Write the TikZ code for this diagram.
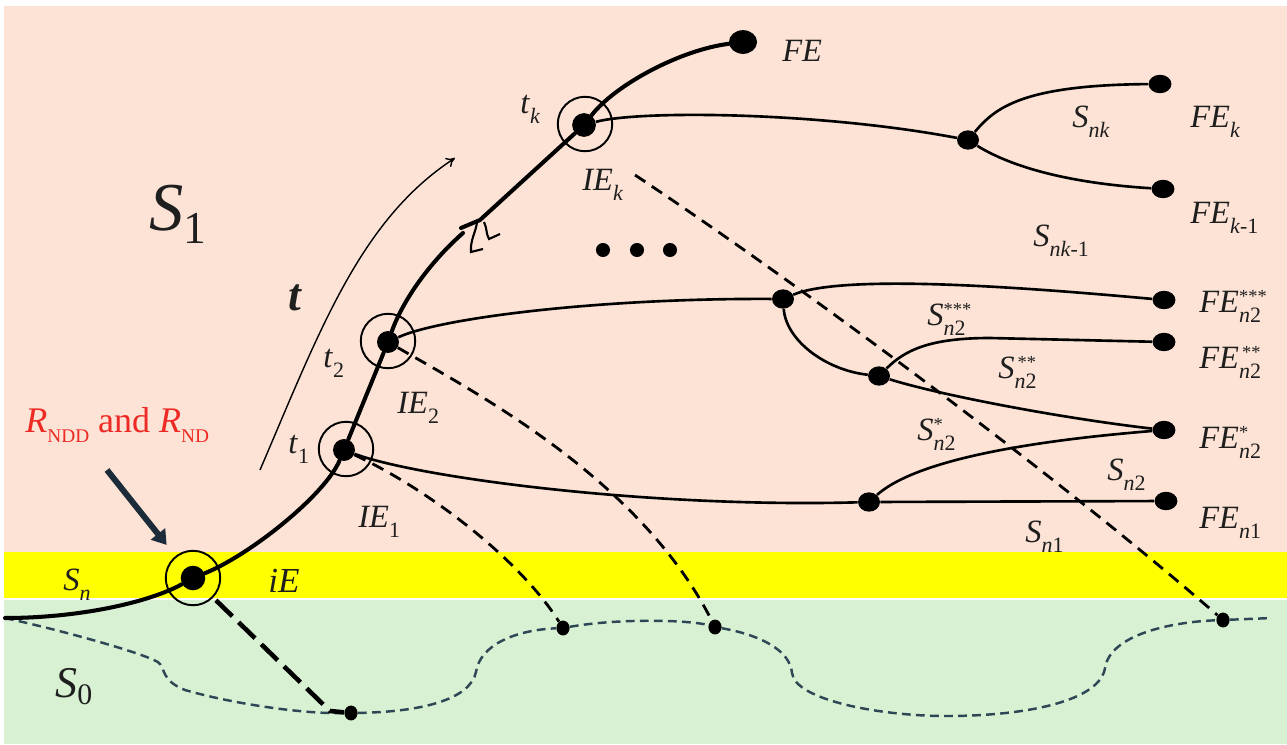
\documentclass[tikz,border=0pt]{standalone}
\usepackage{fontspec}
\setmainfont{Liberation Serif}
\usepackage{amsmath}
\usepackage{xcolor}
\usepackage{tikz}
\usetikzlibrary{arrows.meta,shapes.geometric}
\definecolor{bgpink}{HTML}{FCE3D6}
\definecolor{bgyellow}{HTML}{FFFF00}
\definecolor{bggreen}{HTML}{D8F1D2}
\definecolor{slateink}{HTML}{2E4756}
\definecolor{navyink}{HTML}{1C2B3A}
\definecolor{labelred}{HTML}{EE2A24}
\definecolor{inkgray}{HTML}{1E1E1E}
\newcommand{\subsz}{\fontsize{12.5}{13}\selectfont}
\newcommand{\supsz}{\fontsize{10.5}{11}\selectfont}
% name with a lowered index and an optional row of stars
\newcommand{\ev}[3]{\textit{#1}\rlap{\raisebox{0.3em}{\supsz#3}}\raisebox{-0.32em}{\subsz#2}}
\tikzset{
  trunk/.style={line width=2.3pt,line cap=round,line join=round},
  branch/.style={line width=1.5pt},
  tline/.style={line width=0.8pt,-{To[length=5pt,width=6pt]}},
  bigdot/.style={circle,fill=black,inner sep=0pt,minimum size=12.5pt},
  enddot/.style={ellipse,fill=black,inner sep=0pt,minimum width=13pt,minimum height=10.5pt},
  forkdot/.style={ellipse,fill=black,inner sep=0pt,minimum width=12.5pt,minimum height=11pt},
  basedot/.style={ellipse,fill=black,inner sep=0pt,minimum width=7.5pt,minimum height=8.5pt},
  ring/.style={circle,draw=black,line width=1.1pt,inner sep=0pt,minimum size=31pt},
  projthick/.style={line width=2.6pt,dash pattern=on 13pt off 5pt},
  proj/.style={line width=1.6pt,dash pattern=on 7pt off 4.5pt},
  s0line/.style={draw=slateink,line width=1.4pt,dash pattern=on 5pt off 3pt},
  lbl/.style={inner sep=0pt,anchor=base west,font=\fontsize{18.5}{20}\selectfont,text=inkgray},
}
\begin{document}
\begin{tikzpicture}[x=0.02cm,y=-0.02cm]
  \useasboundingbox (0,0) rectangle (1287,744);
  % regions
  \fill[white] (0,0) rectangle (1287,744);
  \fill[bgpink] (4,6) rectangle (1287,552);
  \fill[bgyellow] (4,552) rectangle (1287,598);
  \fill[bggreen] (4,600) rectangle (1287,744);

  % events on the trunk
  \node[bigdot,minimum size=14pt] (iE) at (193,578) {};
  \node[bigdot] (t1) at (344,450) {};
  \node[bigdot] (t2) at (388,342) {};
  \node[bigdot,minimum size=13.5pt] (tk) at (584,125) {};
  \node[enddot,minimum width=16pt,minimum height=13.5pt] (fe) at (743,42) {};
  \node[ring] (iEr) at (193,578) {};
  \node[ring] (t1r) at (346,449) {};
  \node[ring] (t2r) at (388,341) {};
  \node[ring] (tkr) at (585,124) {};

  % forks and final events
  \node[forkdot] (nk) at (968,140) {};
  \node[forkdot] (na) at (783,299) {};
  \node[forkdot] (nb) at (879,376) {};
  \node[forkdot] (nc) at (869,502) {};
  \node[enddot] (fek) at (1160,84) {};
  \node[enddot] (fekm) at (1163,189) {};
  \node[enddot] (fe3) at (1164,300) {};
  \node[enddot] (fe2) at (1164,342) {};
  \node[enddot] (fe1) at (1164,430) {};
  \node[enddot] (fen1) at (1166,501) {};

  % points on the S0 boundary
  \node[basedot] (sa) at (351,713) {};
  \node[basedot] (sb) at (563,628) {};
  \node[basedot] (sc) at (715,627) {};
  \node[basedot] (sd) at (1223,620) {};

  \coordinate (west) at (5,618);
  \coordinate (east) at (1272,618);
  \coordinate (brkT) at (461,228);
  \coordinate (brkB) at (463,233);
  \coordinate (kfoot) at (635,175);
  \coordinate (tTail) at (260,470);
  \coordinate (tHead) at (455,158);
  \coordinate (rTail) at (107,470);

  \draw[s0line] (west) .. controls (60,630) and (140,652) .. (158,662)
    .. controls (166,668) and (160,680) .. (185,690)
    .. controls (230,703) and (300,714) .. (sa)
    .. controls (420,712) and (470,700) .. (476,672)
    .. controls (480,645) and (515,630) .. (sb)
    .. controls (620,618) and (690,620) .. (sc)
    .. controls (760,635) and (790,650) .. (792,673)
    .. controls (795,700) and (880,716) .. (946,716)
    .. controls (1030,716) and (1100,700) .. (1105,668)
    .. controls (1110,635) and (1170,622) .. (sd) -- (east);

  \draw[projthick,shorten <=11pt] (iE) -- (330,711) -- (sa);
  \draw[proj] (t1) .. controls (430,490) and (520,560) .. (sb);
  \draw[proj] (t2) .. controls (480,395) and (640,480) .. (sc);
  \draw[proj] (kfoot) .. controls (800,285) and (1050,470) .. (sd);

  \draw[branch] (tk) .. controls (640,110) and (820,112) .. (nk);
  \draw[branch] (nk) .. controls (995,108) and (1022,85) .. (fek);
  \draw[branch] (nk) .. controls (1000,160) and (1050,182) .. (fekm);
  \draw[branch] (t2) .. controls (440,318) and (600,298) .. (na);
  \draw[branch] (na) .. controls (840,275) and (1000,285) .. (fe3);
  \draw[branch] (na) .. controls (786,340) and (825,370) .. (nb);
  \draw[branch] (nb) .. controls (905,350) and (930,338) .. (990,338) -- (fe2);
  \draw[branch] (nb) .. controls (940,395) and (1060,418) .. (fe1);
  \draw[branch] (t1) .. controls (420,478) and (650,508) .. (nc);
  \draw[branch] (nc) -- (fen1);
  \draw[branch] (nc) .. controls (905,470) and (980,445) .. (fe1);

  \draw[trunk] (west) .. controls (80,618) and (150,602) .. (iE);
  \draw[trunk] (iE) .. controls (250,555) and (325,495) .. (t1);
  \draw[trunk] (t1) -- (t2);
  \draw[trunk] (t2) .. controls (403,300) and (430,262) .. (brkB);
  \draw[trunk] (brkT) -- (480,220) -- (tk);
  \draw[trunk] (tk) .. controls (615,85) and (680,50) .. (fe);
  % break in the time axis
  \draw[line width=1.2pt] (477,222) .. controls (476,232) and (470,240) .. (471,252) -- (483,249);
  \draw[line width=1.2pt] (484,222) .. controls (487,228) and (486,234) .. (489,239) -- (500,234);

  \draw[tline] (tTail) .. controls (320,330) and (360,220) .. (tHead);
  \draw[navyink,line width=3.4pt,-{Triangle[length=8pt,width=10pt]},shorten >=8pt] (rTail) -- (iEr);

  \fill (603,250) circle[radius=4pt];
  \fill (637,250) circle[radius=4pt];
  \fill (670,250) circle[radius=4pt];

  % labels
  \node[lbl,font=\fontsize{39}{42}\selectfont] (lS1) at (149,230) {\textit{S}\raisebox{-0.19em}{\fontsize{26}{28}\selectfont 1}};
  \node[lbl,font=\fontsize{25}{27}\selectfont] (lS0) at (55,697) {\textit{S}\raisebox{-0.18em}{\fontsize{17}{18}\selectfont 0}};
  \node[lbl,font=\fontsize{26}{28}\selectfont\bfseries] (ltime) at (288,310) {\textit{t}};
  \node[lbl,font=\fontsize{20.5}{22}\selectfont,text=labelred] (lR) at (25,432)
    {\textit{R}\raisebox{-0.3em}{\fontsize{11}{12}\selectfont NDD} and \textit{R}\raisebox{-0.3em}{\fontsize{11}{12}\selectfont ND}};
  \node[lbl] (lSn) at (63,590) {\ev{S}{\textit{n}}{}};
  \node[lbl,font=\fontsize{20}{22}\selectfont] (liE) at (268,592) {\textit{iE}};
  \node[lbl] (lfe) at (782,61) {\textit{FE}};
  \node[lbl] (ltk) at (520,113) {\ev{t}{\textit{k}}{}};
  \node[lbl] (lIEk) at (582,190) {\ev{IE}{\textit{k}}{}};
  \node[lbl] (lt2) at (323,367) {\ev{t}{2}{}};
  \node[lbl] (lIE2) at (397,413) {\ev{IE}{2}{}};
  \node[lbl] (lt1) at (288,453) {\ev{t}{1}{}};
  \node[lbl] (lIE1) at (358,527) {\ev{IE}{1}{}};
  \node[lbl] (lFEk) at (1190,127) {\ev{FE}{\textit{k}}{}};
  \node[lbl] (lFEkm) at (1190,223) {\ev{FE}{\textit{k}-1}{}};
  \node[lbl] (lSnk) at (1072,127) {\ev{S}{\textit{nk}}{}};
  \node[lbl] (lSnkm) at (1033,246) {\ev{S}{\textit{nk}-1}{}};
  \node[lbl] (lFE3) at (1199,312) {\ev{FE}{\textit{n}2}{***}};
  \node[lbl] (lFE2) at (1199,368) {\ev{FE}{\textit{n}2}{\,**}};
  \node[lbl] (lFE1) at (1199,448) {\ev{FE}{\textit{n}2}{*}};
  \node[lbl] (lFEn1) at (1199,528) {\ev{FE}{\textit{n}1}{}};
  \node[lbl] (lS3) at (927,325) {\ev{S}{\textit{n}2}{***}};
  \node[lbl] (lS2) at (998,378) {\ev{S}{\textit{n}2}{\,**}};
  \node[lbl] (lS1s) at (917,440) {\ev{S}{\textit{n}2}{*}};
  \node[lbl] (lSn2) at (1107,480) {\ev{S}{\textit{n}2}{}};
  \node[lbl] (lSn1) at (1025,542) {\ev{S}{\textit{n}1}{}};
\end{tikzpicture}
\end{document}
